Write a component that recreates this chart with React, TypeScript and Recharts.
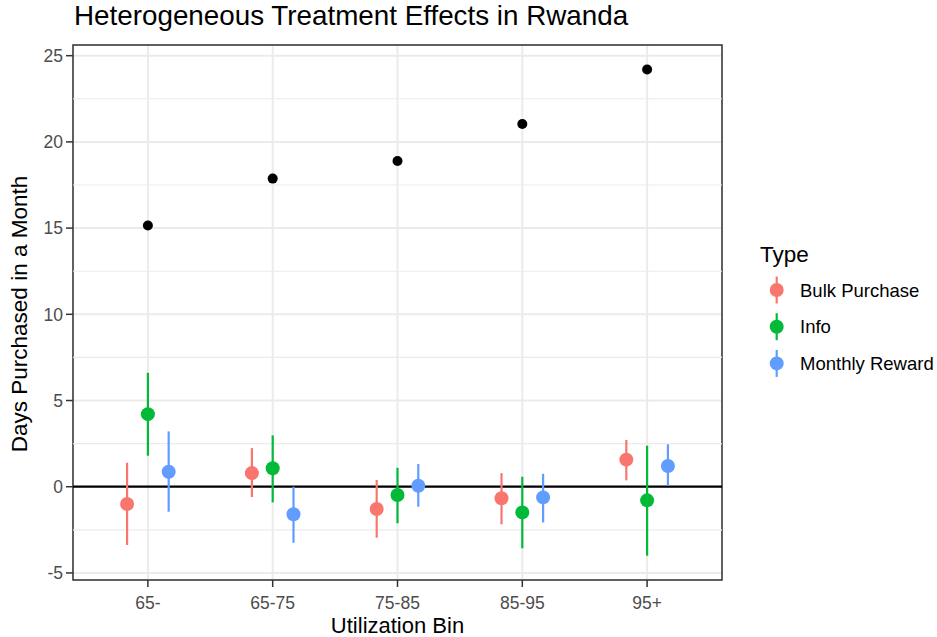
import React from 'react'
import {
  ComposedChart,
  Scatter,
  ErrorBar,
  XAxis,
  YAxis,
  CartesianGrid,
  ReferenceLine,
  ReferenceArea,
  Legend,
} from 'recharts'

const categories = ['65-', '65-75', '75-85', '85-95', '95+']

// black points: baseline days purchased
const baseline = [15.15, 17.87, 18.89, 21.04, 24.2]

const bulkEst = [-1.0, 0.79, -1.29, -0.67, 1.57]
const bulkLow = [-3.38, -0.6, -2.96, -2.18, 0.37]
const bulkHigh = [1.39, 2.24, 0.39, 0.79, 2.71]

const infoEst = [4.21, 1.07, -0.48, -1.49, -0.79]
const infoLow = [1.8, -0.91, -2.12, -3.57, -4.0]
const infoHigh = [6.61, 2.98, 1.1, 0.58, 2.38]

const rewardEst = [0.87, -1.6, 0.06, -0.62, 1.2]
const rewardLow = [-1.45, -3.25, -1.16, -2.07, 0.06]
const rewardHigh = [3.21, 0.0, 1.32, 0.75, 2.46]

const yTicks = [-5, 0, 5, 10, 15, 20, 25]
const yMinorTicks = [-2.5, 2.5, 7.5, 12.5, 17.5, 22.5]
const xTicks = [1, 2, 3, 4, 5]

const X_DOMAIN: [number, number] = [0.4, 5.6]
const Y_DOMAIN: [number, number] = [-5.41, 25.62]
const DODGE = 0.5 / 3

const FONT = '"Liberation Sans", Arial, Helvetica, sans-serif'

const series = [
  { name: 'Bulk Purchase', color: '#F8766D', est: bulkEst, low: bulkLow, high: bulkHigh, shift: -DODGE },
  { name: 'Info', color: '#00BA38', est: infoEst, low: infoLow, high: infoHigh, shift: 0 },
  { name: 'Monthly Reward', color: '#619CFF', est: rewardEst, low: rewardLow, high: rewardHigh, shift: DODGE },
]

function buildRows(est: number[], low: number[], high: number[], shift: number) {
  return est.map((y, i) => ({
    x: i + 1 + shift,
    y,
    err: [y - low[i], high[i] - y],
  }))
}

const baselineRows = baseline.map((y, i) => ({ x: i + 1, y }))

const dot = (color: string, r: number) => (props: any) => {
  const { cx, cy } = props
  if (cx == null || cy == null) return <g />
  return <circle cx={cx} cy={cy} r={r} fill={color} />
}

function LegendBox() {
  return (
    <svg width={200} height={160}>
      <text x={20} y={31.7} fontSize={22.5} fontFamily={FONT} fill="#000">
        Type
      </text>
      {series.map((s, i) => {
        const cy = 60 + i * 36.7
        return (
          <g key={s.name}>
            <line x1={36.7} x2={36.7} y1={cy - 13.5} y2={cy + 13.5} stroke={s.color} strokeWidth={2.2} />
            <circle cx={36.7} cy={cy} r={7} fill={s.color} />
            <text x={60} y={cy + 6.6} fontSize={18.5} fontFamily={FONT} fill="#000">
              {s.name}
            </text>
          </g>
        )
      })}
    </svg>
  )
}

export default function App() {
  return (
    <div style={{ position: 'absolute', left: 0, top: 0, width: 937, height: 637, background: '#fff' }}>
      <div
        style={{
          position: 'absolute',
          left: 74,
          top: 2,
          fontFamily: FONT,
          fontSize: 27.8,
          lineHeight: '27.8px',
          color: '#000',
          whiteSpace: 'nowrap',
        }}
      >
        Heterogeneous Treatment Effects in Rwanda
      </div>
      <ComposedChart width={937} height={637} margin={{ top: 45, right: 215, bottom: 0, left: 0 }}>
        <CartesianGrid stroke="#EBEBEB" strokeWidth={2} />
        {yMinorTicks.map((v) => (
          <ReferenceLine key={v} y={v} stroke="#EBEBEB" strokeWidth={1.1} />
        ))}
        <XAxis
          type="number"
          dataKey="x"
          domain={X_DOMAIN}
          ticks={xTicks}
          allowDataOverflow
          height={57}
          axisLine={false}
          tickLine={{ stroke: '#333333', strokeWidth: 1.5 }}
          tickSize={7}
          tickMargin={9.5}
          tickFormatter={(v: number) => categories[v - 1]}
          tick={{ fill: '#4D4D4D', fontSize: 17.5, fontFamily: FONT }}
          label={{
            content: () => (
              <text x={397.5} y={633} textAnchor="middle" fontSize={22} fontFamily={FONT} fill="#000">
                Utilization Bin
              </text>
            ),
          }}
        />
        <YAxis
          type="number"
          dataKey="y"
          domain={Y_DOMAIN}
          ticks={yTicks}
          allowDataOverflow
          width={73}
          axisLine={false}
          tickLine={{ stroke: '#333333', strokeWidth: 1.5 }}
          tickSize={7}
          tickMargin={3}
          tick={{ fill: '#4D4D4D', fontSize: 17.5, fontFamily: FONT }}
          label={{
            content: () => (
              <text
                x={26.5}
                y={314}
                transform="rotate(-90 26.5 314)"
                textAnchor="middle"
                fontSize={22.5}
                fontFamily={FONT}
                fill="#000"
              >
                Days Purchased in a Month
              </text>
            ),
          }}
        />
        <ReferenceLine y={0} stroke="#000000" strokeWidth={2.2} />
        <Scatter
          data={baselineRows}
          dataKey="y"
          legendType="none"
          isAnimationActive={false}
          shape={dot('#000000', 5)}
        />
        {series.map((s) => (
          <Scatter
            key={s.name}
            name={s.name}
            data={buildRows(s.est, s.low, s.high, s.shift)}
            dataKey="y"
            fill={s.color}
            isAnimationActive={false}
            shape={dot(s.color, 7)}
          >
            <ErrorBar dataKey="err" direction="y" width={0} stroke={s.color} strokeWidth={2.2} isAnimationActive={false} />
          </Scatter>
        ))}
        <ReferenceArea
          x1={X_DOMAIN[0]}
          x2={X_DOMAIN[1]}
          y1={Y_DOMAIN[0]}
          y2={Y_DOMAIN[1]}
          fill="none"
          stroke="#333333"
          strokeWidth={1.5}
          ifOverflow="visible"
        />
        <Legend
          layout="vertical"
          align="center"
          verticalAlign="middle"
          content={() => <LegendBox />}
          wrapperStyle={{ left: 740, top: 230, width: 200, height: 160 }}
        />
      </ComposedChart>
    </div>
  )
}
